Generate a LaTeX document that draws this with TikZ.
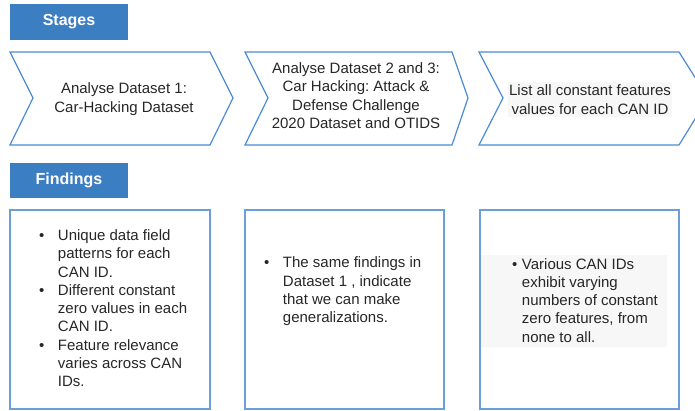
\documentclass[tikz,border=0pt]{standalone}
\usepackage{fontspec}
\setmainfont{Liberation Sans}
\frenchspacing
\definecolor{hdrblue}{HTML}{3B7EC2}
\definecolor{lineblue}{HTML}{4A8BD3}
\definecolor{boxblue}{HTML}{6B9FD9}
\definecolor{txtgray}{HTML}{262626}
\definecolor{paleback}{HTML}{F7F7F7}
\tikzset{
  header/.style={fill=hdrblue, draw=none},
  headtxt/.style={text=white, inner sep=0pt, font=\fontsize{16}{19}\selectfont\bfseries},
  chevron/.style={draw=lineblue, line width=1.2pt, line join=miter},
  findbox/.style={draw=boxblue, line width=1.8pt},
  backfill/.style={fill=paleback, draw=none},
  txt/.style={text=txtgray, inner sep=0pt, align=center, font=\fontsize{15}{18.3}\selectfont},
}

\begin{document}
\begin{tikzpicture}[x=1pt, y=-1pt]
        \useasboundingbox (0,0) rectangle (695,411);
        \clip (0,0) rectangle (695,411);

        % headers
        \path[header] (10,4) rectangle (128,40);
        \node[headtxt] (stages) at (69,22) {Stages};
        \path[header] (10,163) rectangle (128,198);
        \node[headtxt] (findings) at (69,180.5) {Findings};

        % stages
        \draw[chevron] (10,52) -- (210,52) -- (233,98) -- (210,145) -- (10,145) -- (33,98) -- cycle;
        \draw[chevron] (245,52) -- (452,52) -- (468,98) -- (452,145) -- (245,145) -- (268,98) -- cycle;
        \draw[chevron] (479,52) -- (679,52) -- (708,98) -- (679,145) -- (479,145) -- (503,98) -- cycle;
        \path[backfill] (508,82) rectangle (672,117);

        \node[txt] (st1) at (124,99) {Analyse Dataset 1:\\Car-Hacking Dataset};
        \node[txt] (st2) at (356,95.5) {Analyse Dataset 2 and 3:\\Car Hacking: Attack \&\\Defense Challenge\\2020 Dataset and OTIDS};
        \node[txt] (st3) at (590,99.5) {List all constant features\\values for each CAN ID};

        % findings
        \draw[findbox] (10,210) rectangle (210,409);
        \draw[findbox] (245,210) rectangle (444,409);
        \draw[findbox] (480,210) rectangle (679,409);
        \path[backfill] (481,255) rectangle (667,347);

        \node[txt, anchor=west] (fd1) at (39,310) {\begin{tabular}{@{}l@{\hspace{13.5pt}}l@{}}
            \textbullet & Unique data field\\ & patterns for each\\ & CAN ID.\\
            \textbullet & Different constant\\ & zero values in each\\ & CAN ID.\\
            \textbullet & Feature relevance\\ & varies across CAN\\ & IDs.
        \end{tabular}};
        \node[txt, anchor=west] (fd2) at (264,291.5) {\begin{tabular}{@{}l@{\hspace{13.5pt}}l@{}}
            \textbullet & The same findings in\\ & Dataset 1 , indicate\\ & that we can make\\ & generalizations.
        \end{tabular}};
        \node[txt, anchor=west] (fd3) at (512,302) {\begin{tabular}{@{}l@{\hspace{4.5pt}}l@{}}
            \textbullet & Various CAN IDs\\ & exhibit varying\\ & numbers of constant\\ & zero features, from\\ & none to all.
        \end{tabular}};

    \end{tikzpicture}
\end{document}
